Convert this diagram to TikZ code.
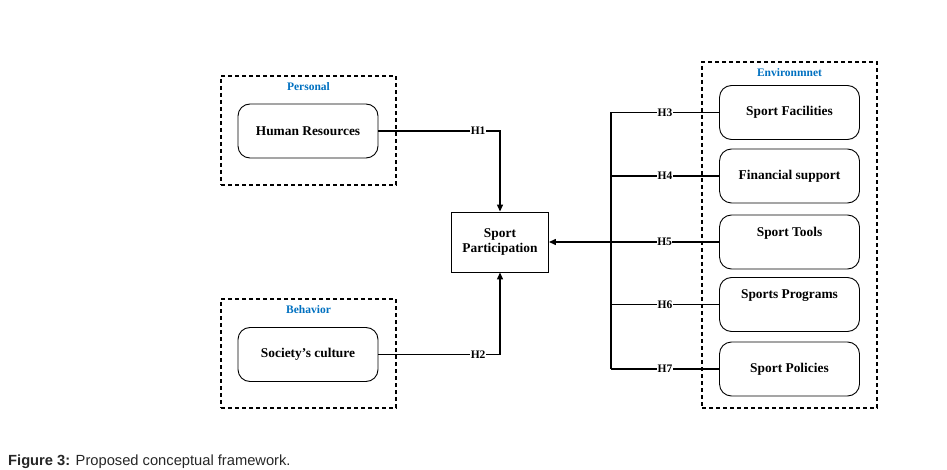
\documentclass[tikz,border=0pt]{standalone}
\usepackage{fontspec}
\setmainfont{Liberation Serif}
\newfontfamily\captionfont{Liberation Sans}
\usetikzlibrary{arrows.meta,positioning}
\definecolor{grouptitle}{RGB}{0,112,192}

\begin{document}
\begin{tikzpicture}[
    x=1pt,
    y=-1pt,
    group/.style={
      draw,
      line width=1.6pt,
      dash pattern=on 4pt off 3pt,
      minimum width=175pt,
      minimum height=109pt,
      inner sep=0,
    },
    grouplabel/.style={
      inner sep=0,
      text=grouptitle,
      font=\bfseries\fontsize{11.5}{12}\selectfont,
    },
    factor/.style={
      draw,
      line width=.9pt,
      rounded corners=12pt,
      minimum width=140pt,
      minimum height=54pt,
      inner sep=0,
      font=\bfseries\fontsize{13.4}{15}\selectfont,
    },
    raised/.style={
      text depth=20pt,
    },
    outcome/.style={
      draw,
      line width=.9pt,
      minimum width=97pt,
      minimum height=60pt,
      align=center,
      font=\bfseries\fontsize{13.4}{15}\selectfont,
    },
    link/.style={
      line width=1.3pt,
    },
    arrow/.style={
      link,
      -{Triangle[length=7pt,width=6pt]},
    },
    hyp/.style={
      fill=white,
      inner sep=.5pt,
      font=\bfseries\fontsize{11.5}{11.5}\selectfont,
    },
  ]
    \newcommand\hyplink[2]{%
      \draw[link] (#1.west) -- node[hyp]{#2} (#1.west -| bustop);
    }

    \useasboundingbox (0,0) rectangle (947,470);

    \node[group] (personal) at (308.5,130.5) {};
    \node[grouplabel,below=7pt of personal.north] (personaltitle) {Personal};
    \node[factor] (hr) at (308,131) {Human Resources};

    \node[group] (behavior) at (308.5,353.5) {};
    \node[grouplabel,below=7pt of behavior.north] (behaviortitle) {Behavior};
    \node[factor] (sc) at (308,354.5) {Society's culture};

    \node[outcome] (sp) at (500,242) {Sport\\Participation};

    \node[group,minimum height=346pt] (environment) at (789.5,235) {};
    \node[grouplabel,below=7pt of environment.north] (environmenttitle) {Environmnet};
    \node[factor] (sf) at (789.5,112.5) {Sport Facilities};
    \node[factor] (fs) at (789.5,176) {Financial support};
    \node[factor,raised] (st) at (789.5,242) {Sport Tools};
    \node[factor,raised] (spg) at (789.5,304.5) {Sports Programs};
    \node[factor] (spo) at (789.5,369) {Sport Policies};

    \draw[arrow] (hr.east) -| node[hyp,pos=.41]{H1} (sp.north);
    \draw[arrow] (sc.east) -| node[hyp,pos=.41]{H2} (sp.south);

    \coordinate (bustop) at (611,112.5);
    \coordinate (busbottom) at (611,369);
    \draw[link] (bustop) -- (busbottom);
    \hyplink{sf}{H3}
    \hyplink{fs}{H4}
    \draw[arrow] (st.west) -- node[hyp,pos=.32]{H5} (sp.east);
    \hyplink{spg}{H6}
    \hyplink{spo}{H7}

    \node[anchor=base west,inner sep=0,text=black!85,
      font=\captionfont\fontsize{14.7}{17}\selectfont] (caption) at (8,465)
      {\textbf{Figure 3:} Proposed conceptual framework.};
  \end{tikzpicture}
\end{document}
